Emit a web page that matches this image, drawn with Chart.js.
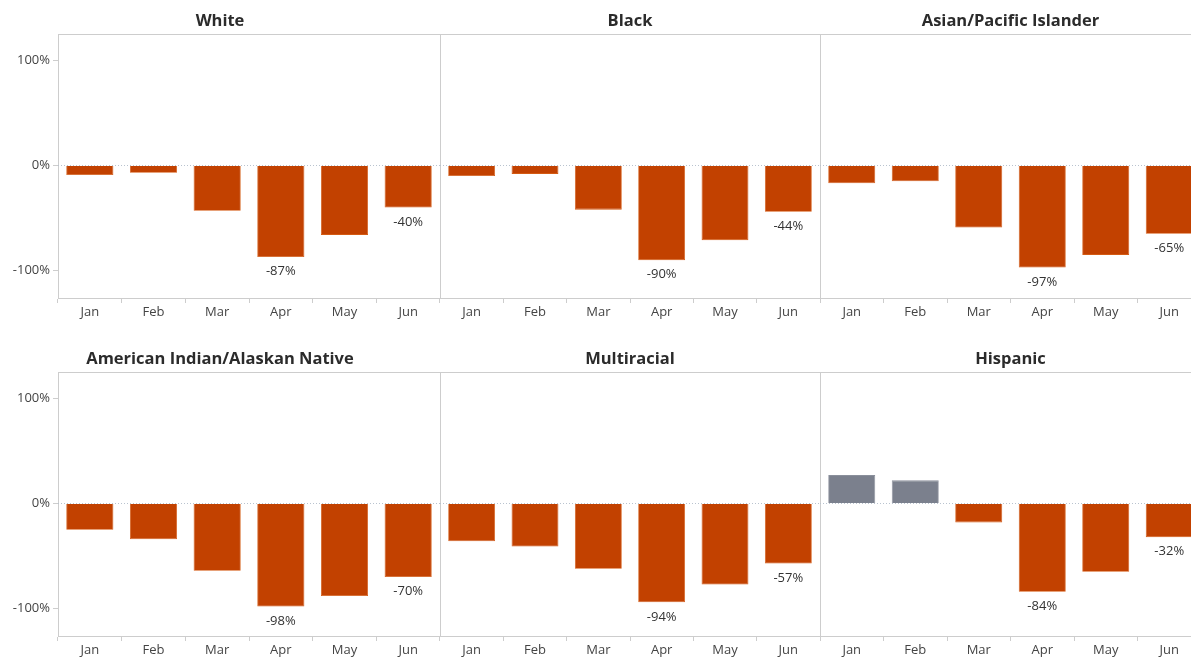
<!DOCTYPE html>
<html>
<head>
<meta charset="utf-8">
<script src="https://cdn.jsdelivr.net/npm/chart.js@4.4.1/dist/chart.umd.min.js"></script>
<style>
  html, body { margin: 0; padding: 0; background: #fff; overflow: hidden; }
  body { width: 1191px; height: 657px; position: relative; }
  .panel { position: absolute; }
</style>
</head>
<body>
<script>
// months and series values (% change)
const months = ["Jan", "Feb", "Mar", "Apr", "May", "Jun"];
const white = [-9, -7, -43, -87, -66, -40];
const black = [-10, -8, -42, -90, -71, -44];
const asianPacific = [-17, -15, -59, -97, -85, -65];
const amIndianAlaskan = [-25, -34, -64, -98, -88, -70];
const multiracial = [-36, -41, -62, -94, -77, -57];
const hispanic = [27, 22, -18, -84, -65, -32];

const titles = ["White", "Black", "Asian/Pacific Islander",
  "American Indian/Alaskan Native", "Multiracial", "Hispanic"];
const seriesList = [white, black, asianPacific, amIndianAlaskan, multiracial, hispanic];
const labeledMonths = ["Apr", "Jun"];
const yTicks = [-100, 0, 100];

const ORANGE = "#c24100";
const GRAY = "#7b808d";
const LINE = "#cdcdcd";
const FONT = "'Open Sans', 'Noto Sans', sans-serif";

// panel boxes (canvas placement)
const colLeft = [0, 440, 820];
const colWidth = [440, 380, 381];
const rowTop = [0, 338];

const zeroLine = {
  id: "zeroLine",
  beforeDatasetsDraw(chart) {
    const { ctx, chartArea, scales } = chart;
    const y = Math.round(scales.y.getPixelForValue(0)) + 0.5;
    ctx.save();
    ctx.strokeStyle = "#b9c3cf";
    ctx.lineWidth = 1;
    ctx.setLineDash([1, 2]);
    ctx.beginPath();
    ctx.moveTo(chartArea.left, y);
    ctx.lineTo(chartArea.right, y);
    ctx.stroke();
    ctx.restore();
  }
};

const barLabels = {
  id: "barLabels",
  afterDatasetsDraw(chart) {
    const { ctx } = chart;
    const meta = chart.getDatasetMeta(0);
    const vals = chart.data.datasets[0].data;
    ctx.save();
    ctx.font = "13px " + FONT;
    ctx.fillStyle = "#333";
    ctx.textAlign = "center";
    ctx.textBaseline = "top";
    meta.data.forEach((bar, i) => {
      if (!labeledMonths.includes(chart.data.labels[i])) return;
      ctx.fillText(vals[i] + "%", bar.x, bar.y + 8);
    });
    ctx.restore();
  }
};

seriesList.forEach((vals, idx) => {
  const col = idx % 3;
  const row = Math.floor(idx / 3);
  const div = document.createElement("div");
  div.className = "panel";
  div.style.left = colLeft[col] + "px";
  div.style.top = rowTop[row] + "px";
  div.style.width = colWidth[col] + "px";
  div.style.height = "330px";
  const canvas = document.createElement("canvas");
  div.appendChild(canvas);
  document.body.appendChild(div);

  const showY = col === 0;

  new Chart(canvas, {
    type: "bar",
    data: {
      labels: months,
      datasets: [{
        data: vals,
        backgroundColor: c => (c.raw >= 0 ? GRAY : ORANGE),
        borderColor: c => (c.raw >= 0 ? "#8a8f9b" : "#d45a12"),
        borderWidth: 0.8,
        barPercentage: 0.74,
        categoryPercentage: 1
      }]
    },
    options: {
      responsive: true,
      maintainAspectRatio: false,
      animation: false,
      layout: { padding: { left: 0, right: 0, top: 0, bottom: 0 } },
      plugins: {
        legend: { display: false },
        tooltip: { enabled: false },
        title: {
          display: true,
          text: titles[idx],
          color: "#2b2b2b",
          font: { family: FONT, size: 16.5, weight: "bold", lineHeight: 1.2 },
          padding: { top: 11, bottom: 3.2 }
        }
      },
      scales: {
        x: {
          position: "bottom",
          grid: {
            offset: true,
            drawOnChartArea: false,
            drawTicks: true,
            tickLength: 5,
            tickColor: LINE
          },
          border: { display: true, color: LINE },
          ticks: {
            color: "#444",
            padding: 1,
            maxRotation: 0,
            font: { family: FONT, size: 13 }
          },
          afterFit: s => { s.height = 32; }
        },
        xTop: {
          position: "top",
          grid: { display: false, drawTicks: false },
          border: { display: true, color: LINE },
          ticks: { display: false },
          afterFit: s => { s.height = 0; }
        },
        y: {
          min: -126,
          max: 125,
          afterBuildTicks: s => { s.ticks = yTicks.map(v => ({ value: v })); },
          grid: {
            drawOnChartArea: false,
            drawTicks: showY,
            tickLength: 5,
            tickColor: LINE
          },
          border: { display: true, color: LINE },
          ticks: {
            display: showY,
            color: "#444",
            padding: 3,
            font: { family: FONT, size: 13 },
            callback: v => v + "%"
          },
          afterFit: s => { s.width = showY ? 58 : 0; }
        }
      }
    },
    plugins: [zeroLine, barLabels]
  });
});
</script>
</body>
</html>
